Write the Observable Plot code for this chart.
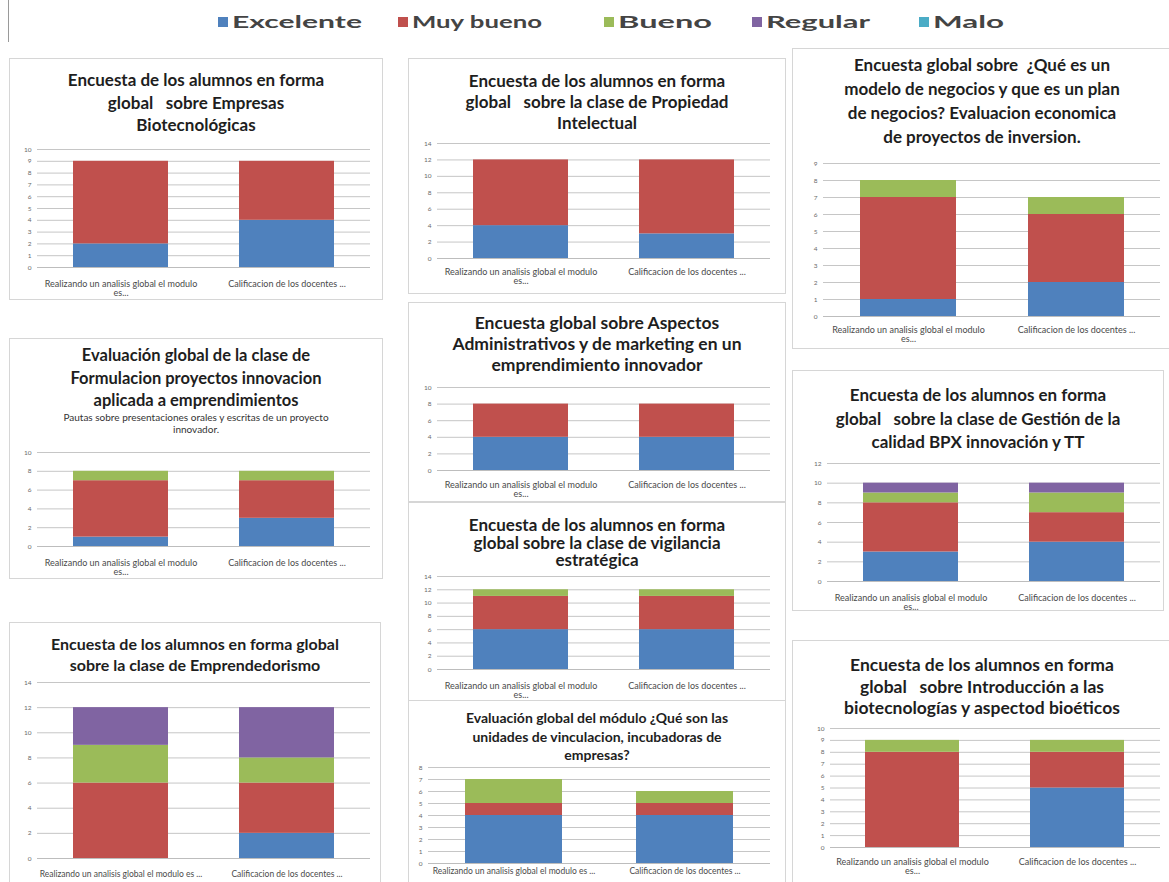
<!DOCTYPE html>
<html>
<head>
<meta charset="utf-8">
<script src="https://cdn.jsdelivr.net/npm/d3@7"></script>
<script src="https://cdn.jsdelivr.net/npm/@observablehq/plot@0.6"></script>
<style>
  body { margin: 0; background: #fff; font-family: Lato, "Open Sans", sans-serif; }
  #page { position: relative; width: 1169px; height: 882px; overflow: hidden; background: #fff; }
  .panel { position: absolute; box-sizing: border-box; border: 1px solid #d6d6d6; overflow: hidden; background: #fff; }
  .title { position: absolute; left: 0; right: 0; text-align: center; font-weight: 700; white-space: pre; color: #1e1e1e; }
  .sub { position: absolute; left: 0; right: 0; text-align: center; font-weight: 400; white-space: pre; color: #333; }
  .panel svg { position: absolute; overflow: visible; }
  .edge { position: absolute; left: 8px; top: 0; width: 1px; height: 42px; background: #9a9a9a; }
</style>
</head>
<body>
<div id="page"><div class="edge"></div></div>
<script>
// Two survey questions shown in every chart
const categories = ["Realizando un analisis global el modulo es...", "Calificacion de los docentes ..."];
const ratings = ["Excelente", "Muy bueno", "Bueno", "Regular", "Malo"];
const ratingColors = ["#4F81BD", "#C0504D", "#9BBB59", "#8064A2", "#4BACC6"];

// Answer counts: one row per question, columns in rating order
const empresasBiotec  = [[2, 7, 0, 0, 0], [4, 5, 0, 0, 0]];
const propiedadIntel  = [[4, 8, 0, 0, 0], [3, 9, 0, 0, 0]];
const modeloNegocios  = [[1, 6, 1, 0, 0], [2, 4, 1, 0, 0]];
const formulacion     = [[1, 6, 1, 0, 0], [3, 4, 1, 0, 0]];
const administrativos = [[4, 4, 0, 0, 0], [4, 4, 0, 0, 0]];
const vigilancia      = [[6, 5, 1, 0, 0], [6, 5, 1, 0, 0]];
const gestionCalidad  = [[3, 5, 1, 1, 0], [4, 3, 2, 1, 0]];
const emprendedor     = [[0, 6, 3, 3, 0], [2, 4, 2, 4, 0]];
const vinculacion     = [[4, 1, 2, 0, 0], [4, 1, 1, 0, 0]];
const introBiotec     = [[0, 8, 1, 0, 0], [5, 3, 1, 0, 0]];

// Y-axis tick labels
const ticks8by1  = [0, 1, 2, 3, 4, 5, 6, 7, 8];
const ticks9by1  = [0, 1, 2, 3, 4, 5, 6, 7, 8, 9];
const ticks10by1 = [0, 1, 2, 3, 4, 5, 6, 7, 8, 9, 10];
const ticks10by2 = [0, 2, 4, 6, 8, 10];
const ticks12by2 = [0, 2, 4, 6, 8, 10, 12];
const ticks14by2 = [0, 2, 4, 6, 8, 10, 12, 14];

// Chart titles
const titleEmpresas = "Encuesta de los alumnos en forma\nglobal   sobre Empresas\nBiotecnológicas";
const titlePropiedad = "Encuesta de los alumnos en forma\nglobal   sobre la clase de Propiedad\nIntelectual";
const titleModelo = "Encuesta global sobre  ¿Qué es un\nmodelo de negocios y que es un plan\nde negocios? Evaluacion economica\nde proyectos de inversion.";
const titleFormulacion = "Evaluación global de la clase de\nFormulacion proyectos innovacion\naplicada a emprendimientos";
const subFormulacion = "Pautas sobre presentaciones orales y escritas de un proyecto\ninnovador.";
const titleAdmin = "Encuesta global sobre Aspectos\nAdministrativos y de marketing en un\nemprendimiento innovador";
const titleVigilancia = "Encuesta de los alumnos en forma\nglobal sobre la clase de vigilancia\nestratégica";
const titleGestion = "Encuesta de los alumnos en forma\nglobal   sobre la clase de Gestión de la\ncalidad BPX innovación y TT";
const titleEmprend = "Encuesta de los alumnos en forma global\nsobre la clase de Emprendedorismo";
const titleVinculacion = "Evaluación global del módulo ¿Qué son las\nunidades de vinculacion, incubadoras de\nempresas?";
const titleIntro = "Encuesta de los alumnos en forma\nglobal   sobre Introducción a las\nbiotecnologías y aspectod bioéticos";

// Page layout of each chart: frame, title block, plot frame (page pixels)
const panels = [
  {counts: empresasBiotec, title: titleEmpresas, ticks: ticks10by1,
   box: [9, 58, 374, 242], titleTop: 69, titleSize: 17, lineH: 22.5, gx: [37, 370], gy: [149, 267], labelSize: 9, labelPad: 13, wrap: true},
  {counts: propiedadIntel, title: titlePropiedad, ticks: ticks14by2,
   box: [408, 58, 378, 236], titleTop: 69.5, titleSize: 17, lineH: 21, gx: [437, 770], gy: [143, 258], labelSize: 9, labelPad: 10, wrap: true},
  {counts: modeloNegocios, title: titleModelo, ticks: ticks9by1,
   box: [792, 48, 380, 301], titleTop: 53, titleSize: 17, lineH: 24, gx: [823, 1160], gy: [163, 316], labelSize: 9, labelPad: 10, wrap: true},
  {counts: formulacion, title: titleFormulacion, ticks: ticks10by2, sub: subFormulacion, subTop: 411, subSize: 10, subLineH: 12,
   box: [9, 338, 374, 241], titleTop: 344, titleSize: 16.5, lineH: 22.5, gx: [37, 370], gy: [452, 546], labelSize: 9, labelPad: 13, wrap: true},
  {counts: administrativos, title: titleAdmin, ticks: ticks10by2,
   box: [408, 302, 378, 200], titleTop: 312, titleSize: 17.5, lineH: 21, gx: [437, 770], gy: [387, 470], labelSize: 9, labelPad: 11, wrap: true},
  {counts: vigilancia, title: titleVigilancia, ticks: ticks14by2,
   box: [408, 502, 378, 199], titleTop: 516, titleSize: 17, lineH: 17.5, gx: [437, 770], gy: [576, 669], labelSize: 9, labelPad: 13, wrap: true},
  {counts: gestionCalidad, title: titleGestion, ticks: ticks12by2,
   box: [792, 370, 372, 241], titleTop: 383, titleSize: 17, lineH: 23.5, gx: [827, 1160], gy: [463, 581], labelSize: 9, labelPad: 13, wrap: true},
  {counts: emprendedor, title: titleEmprend, ticks: ticks14by2,
   box: [9, 622, 372, 262], titleTop: 633, titleSize: 16, lineH: 21, gx: [37, 370], gy: [682, 858], labelSize: 8.5, labelPad: 12, wrap: false},
  {counts: vinculacion, title: titleVinculacion, ticks: ticks8by1,
   box: [408, 700, 378, 184], titleTop: 709, titleSize: 14, lineH: 18.5, gx: [428, 770], gy: [767, 863], labelSize: 8.5, labelPad: 4, wrap: false},
  {counts: introBiotec, title: titleIntro, ticks: ticks10by1,
   box: [792, 640, 380, 244], titleTop: 654, titleSize: 17.5, lineH: 21.5, gx: [830, 1160], gy: [728, 847], labelSize: 9, labelPad: 11, wrap: true}
];

const page = document.getElementById("page");

function tidy(counts) {
  const rows = [];
  counts.forEach((row, i) => row.forEach((v, j) => rows.push({category: categories[i], rating: ratings[j], value: v})));
  return rows;
}

for (const p of panels) {
  const [bx, by, bw, bh] = p.box;
  const div = document.createElement("div");
  div.className = "panel";
  Object.assign(div.style, {left: bx + "px", top: by + "px", width: bw + "px", height: bh + "px"});

  const t = document.createElement("div");
  t.className = "title";
  t.textContent = p.title;
  Object.assign(t.style, {top: (p.titleTop - by - 1) + "px", fontSize: p.titleSize + "px", lineHeight: p.lineH + "px"});
  div.appendChild(t);

  if (p.sub) {
    const s = document.createElement("div");
    s.className = "sub";
    s.textContent = p.sub;
    Object.assign(s.style, {top: (p.subTop - by - 1) + "px", fontSize: p.subSize + "px", lineHeight: p.subLineH + "px"});
    div.appendChild(s);
  }

  const mL = 16, mR = 4, mT = 6, mB = 34;
  const width = p.gx[1] - p.gx[0] + mL + mR;
  const height = p.gy[1] - p.gy[0] + mT + mB;
  const top = p.ticks[p.ticks.length - 1];

  const chart = Plot.plot({
    width, height,
    marginLeft: mL, marginRight: mR, marginTop: mT, marginBottom: mB,
    style: {fontFamily: "Lato, sans-serif", background: "transparent", color: "#555"},
    x: {domain: categories, paddingInner: 0.43, paddingOuter: 0.215, label: null},
    y: {domain: [0, top], label: null},
    color: {domain: ratings, range: ratingColors},
    marks: [
      Plot.gridY(p.ticks, {stroke: "#c6c6c6", strokeOpacity: 1}),
      Plot.barY(tidy(p.counts), {x: "category", y: "value", fill: "rating"}),
      Plot.ruleY([0], {stroke: "#bdbdbd"}),
      Plot.axisY(p.ticks, {tickSize: 0, tickPadding: 6, fontSize: 6.5, fill: "#6a6a6a", label: null}),
      Plot.axisX({tickSize: 0, tickPadding: p.labelPad, fontSize: p.labelSize, fill: "#4a4a4a", label: null,
        tickFormat: d => p.wrap ? d.replace(" es...", "\nes...") : d.replace(" es...", " es ...")})
    ]
  });
  Object.assign(chart.style, {left: (p.gx[0] - mL - bx - 1) + "px", top: (p.gy[0] - mT - by - 1) + "px"});
  div.appendChild(chart);
  page.appendChild(div);
}

// Shared legend across the top
const legendX = [218, 398, 604, 752, 919];
const legendW = [130, 130, 94, 104, 71];
const legend = d3.select(page).append("svg")
  .attr("width", 1169).attr("height", 44)
  .style("position", "absolute").style("left", 0).style("top", 0);
ratings.forEach((r, i) => {
  const g = legend.append("g").attr("transform", `translate(${legendX[i]},0)`);
  g.append("rect").attr("x", 0).attr("y", 17).attr("width", 10).attr("height", 10).attr("fill", ratingColors[i]);
  g.append("text").attr("x", 14).attr("y", 28)
    .attr("font-family", "Lato, sans-serif").attr("font-weight", 700).attr("font-size", 17)
    .attr("fill", "#444")
    .attr("textLength", legendW[i]).attr("lengthAdjust", "spacingAndGlyphs")
    .text(r);
});
</script>
</body>
</html>
